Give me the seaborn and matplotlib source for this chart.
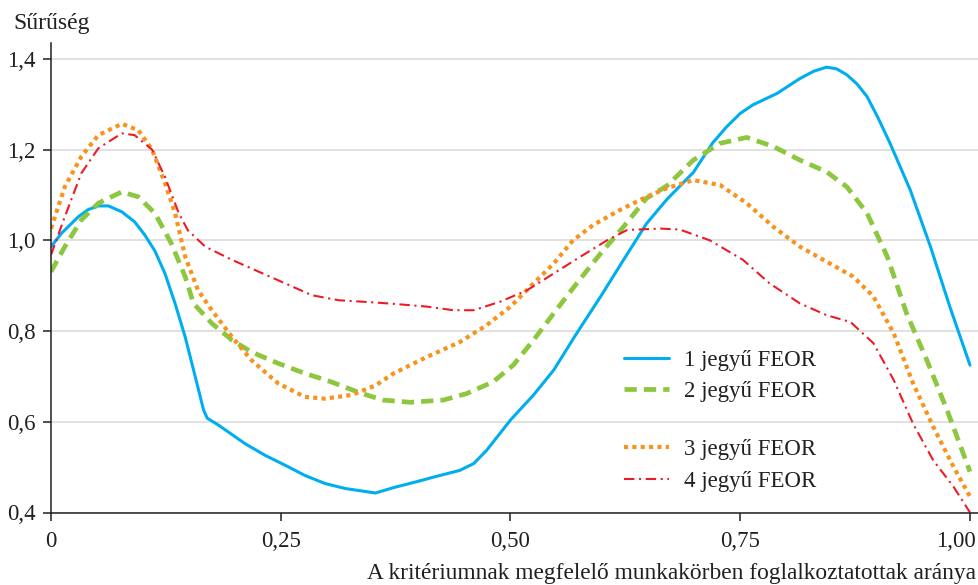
# Density curves by FEOR digit level.

import pandas as pd
import seaborn as sns
import matplotlib.pyplot as plt
import matplotlib.transforms as mtrans

sns.set_style('white')
plt.rcParams['font.family'] = ['Liberation Serif', 'DejaVu Serif']

x1 = [0, 0.0116, 0.0297, 0.0406, 0.0515, 0.0624, 0.077, 0.091, 0.102, 0.113, 0.124, 0.135, 0.146, 0.157,
      0.166, 0.17, 0.182, 0.211, 0.233, 0.255, 0.276, 0.298, 0.32, 0.353, 0.373, 0.398, 0.42, 0.445, 0.46,
      0.474, 0.5, 0.525, 0.547, 0.572, 0.598, 0.623, 0.648, 0.67, 0.699, 0.72, 0.735, 0.75, 0.764, 0.79,
      0.815, 0.83, 0.844, 0.855, 0.866, 0.877, 0.888, 0.9, 0.913, 0.935, 0.957, 0.978, 1.0]
y1 = [0.986, 1.016, 1.052, 1.068, 1.076, 1.076, 1.063, 1.041, 1.012, 0.977, 0.927, 0.861, 0.787, 0.699,
      0.626, 0.608, 0.593, 0.552, 0.526, 0.504, 0.482, 0.464, 0.453, 0.443, 0.455, 0.468, 0.48, 0.493, 0.508,
      0.537, 0.604, 0.659, 0.714, 0.795, 0.876, 0.957, 1.037, 1.09, 1.15, 1.215, 1.25, 1.28, 1.299, 1.324,
      1.357, 1.373, 1.382, 1.378, 1.365, 1.345, 1.317, 1.27, 1.214, 1.111, 0.986, 0.854, 0.725]

x2 = [0, 0.015, 0.033, 0.0515, 0.077, 0.095, 0.113, 0.131, 0.146, 0.155, 0.175, 0.197, 0.218, 0.247, 0.276,
      0.305, 0.336, 0.361, 0.391, 0.427, 0.452, 0.481, 0.503, 0.525, 0.547, 0.572, 0.598, 0.623, 0.648, 0.67,
      0.699, 0.728, 0.757, 0.786, 0.815, 0.844, 0.866, 0.888, 0.91, 0.931, 0.953, 0.975, 1.0]
y2 = [0.931, 0.986, 1.045, 1.082, 1.107, 1.096, 1.06, 0.993, 0.92, 0.861, 0.817, 0.78, 0.754, 0.729, 0.707,
      0.688, 0.664, 0.648, 0.643, 0.648, 0.662, 0.688, 0.725, 0.78, 0.839, 0.905, 0.971, 1.03, 1.093, 1.12,
      1.177, 1.214, 1.227, 1.207, 1.177, 1.151, 1.118, 1.06, 0.964, 0.839, 0.736, 0.626, 0.49]

x3 = [0, 0.015, 0.033, 0.0515, 0.077, 0.095, 0.11, 0.124, 0.135, 0.146, 0.16, 0.175, 0.197, 0.218, 0.247,
      0.276, 0.298, 0.327, 0.353, 0.373, 0.409, 0.445, 0.474, 0.5, 0.525, 0.547, 0.568, 0.59, 0.619, 0.648,
      0.67, 0.699, 0.728, 0.757, 0.786, 0.815, 0.844, 0.873, 0.895, 0.917, 0.938, 0.96, 0.982, 1.0]
y3 = [1.026, 1.118, 1.185, 1.232, 1.257, 1.243, 1.2, 1.126, 1.06, 0.964, 0.89, 0.846, 0.787, 0.736, 0.685,
      0.655, 0.651, 0.659, 0.68, 0.707, 0.743, 0.776, 0.813, 0.854, 0.905, 0.949, 1.0, 1.034, 1.067, 1.096,
      1.115, 1.133, 1.122, 1.082, 1.03, 0.986, 0.953, 0.92, 0.876, 0.795, 0.685, 0.589, 0.501, 0.435]

x4 = [0, 0.015, 0.033, 0.0515, 0.077, 0.091, 0.11, 0.124, 0.139, 0.149, 0.168, 0.197, 0.226, 0.255, 0.284,
      0.313, 0.353, 0.373, 0.409, 0.438, 0.46, 0.489, 0.518, 0.547, 0.576, 0.605, 0.627, 0.663, 0.684, 0.717,
      0.753, 0.782, 0.815, 0.844, 0.87, 0.895, 0.917, 0.938, 0.96, 0.982, 1.0]
y4 = [0.968, 1.052, 1.148, 1.203, 1.236, 1.232, 1.2, 1.14, 1.06, 1.022, 0.986, 0.957, 0.931, 0.905, 0.879,
      0.868, 0.863, 0.86, 0.854, 0.846, 0.846, 0.865, 0.89, 0.927, 0.964, 1.0, 1.023, 1.026, 1.024, 1.0,
      0.957, 0.905, 0.861, 0.835, 0.82, 0.773, 0.692, 0.596, 0.515, 0.457, 0.4]

labels = ['1 jegyű FEOR', '2 jegyű FEOR', '3 jegyű FEOR', '4 jegyű FEOR']
colors = ['#00aeef', '#8dc63f', '#f7941d', '#ed1c24']
widths = [2.2, 3.4, 3.0, 1.5]
dashes = [None, (2.6, 1.5), (1.0, 1.0), (5, 2.2, 1, 2.2)]
fs = 16.5
ink = '#231f20'

fig = plt.figure(figsize=(9.79, 5.85), dpi=100)
ax = fig.add_axes([51 / 979, 1 - 512.5 / 585, 927 / 979, (512.5 - 43) / 585])

lines = []
for xs, ys, lab, c, w, d in zip([x1, x2, x3, x4], [y1, y2, y3, y4], labels, colors, widths, dashes):
    df = pd.DataFrame({'x': xs, 'y': ys})
    sns.lineplot(data=df, x='x', y='y', ax=ax, color=c, linewidth=w, estimator=None, label=lab)
    ln = ax.get_lines()[-1]
    if d is not None:
        ln.set_dashes(d)
        ln.set_dash_capstyle('butt')
    lines.append(ln)

ax.set_xlim(0, (978 - 51) / 919)
ax.set_ylim(0.4, 1.4 + 16 / 454.5)
ax.set_xticks([0, 0.25, 0.5, 0.75, 1.0])
ax.set_xticklabels(['0', '0,25', '0,50', '0,75', '1,00'])
ax.set_yticks([0.4, 0.6, 0.8, 1.0, 1.2, 1.4])
ax.set_yticklabels(['0,4', '0,6', '0,8', '1,0', '1,2', '1,4'])
ax.set_xlabel('')
ax.set_ylabel('')
ax.yaxis.grid(True, color='#d9d9d9', linewidth=1.1)
ax.set_axisbelow(True)
for s in ['top', 'right']:
    ax.spines[s].set_visible(False)
for s in ['left', 'bottom']:
    ax.spines[s].set_color(ink)
    ax.spines[s].set_linewidth(1.1)
ax.tick_params(axis='both', direction='out', length=6, width=1.1, color=ink,
               labelsize=fs, labelcolor=ink)
ax.tick_params(axis='x', pad=7, bottom=True)
ax.tick_params(axis='y', pad=5, left=True)

# last x label sits flush with the right edge
last = ax.get_xticklabels()[-1]
last.set_horizontalalignment('right')
last.set_transform(last.get_transform() + mtrans.ScaledTranslation(6 / 100, 0, fig.dpi_scale_trans))

ax.get_legend().remove()
kw = dict(loc='center left', bbox_transform=fig.transFigure, frameon=False, fontsize=fs, borderpad=0,
          borderaxespad=0, handlelength=1.95, handletextpad=0.65, labelspacing=0.45, labelcolor=ink)
leg1 = ax.legend(lines[:2], labels[:2], bbox_to_anchor=(624 / 979, 1 - 376 / 585), **kw)
ax.add_artist(leg1)
ax.legend(lines[2:], labels[2:], bbox_to_anchor=(624 / 979, 1 - 465.5 / 585), **kw)

fig.text(13 / 979, 1 - 23 / 585, 'Sűrűség', fontsize=17, color=ink, va='center', ha='left')
fig.text(976 / 979, 6 / 585, 'A kritériumnak megfelelő munkakörben foglalkoztatottak aránya',
         fontsize=16.8, color=ink, va='baseline', ha='right')

fig.savefig('out.png', dpi=100)
